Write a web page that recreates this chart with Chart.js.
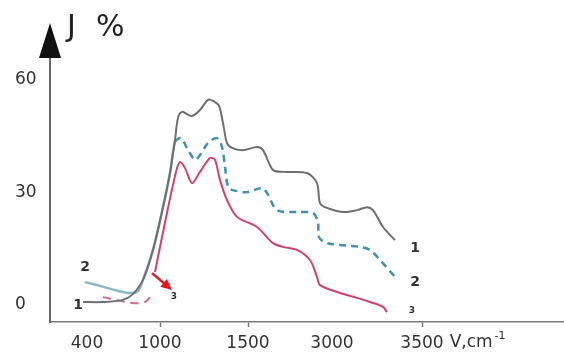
<!DOCTYPE html>
<html>
<head>
<meta charset="utf-8">
<script src="https://cdn.jsdelivr.net/npm/chart.js@4.4.1/dist/chart.umd.min.js"></script>
<style>
  html, body { margin: 0; padding: 0; background: #fff; }
  #wrap { width: 564px; height: 353px; }
</style>
</head>
<body>
<div id="wrap"><canvas id="spectrum" width="564" height="353"></canvas></div>
<script>
// Wavenumber axis is not linear, so points are placed in axis units
const tickPos = [37, 110, 198, 282, 372];
const tickLabels = ['400', '1000', '1500', '3000', '3500'];
const yTicks = [0, 30, 60];

// Curve 1 (grey)
const c1X = [33, 53, 72, 82, 93, 103, 113, 120, 125, 128, 132, 137, 142, 150, 158, 163, 169, 173, 177, 182, 193, 207, 213, 223, 233, 257, 267, 270, 277, 293, 307, 317, 323, 333, 345];
const c1Y = [0.8, 0.8, 1.3, 2.7, 6.7, 14.7, 26.1, 35.2, 44, 49.9, 51.5, 50.9, 50.4, 52, 54.7, 54.4, 53.1, 48.5, 43.2, 41.9, 41.3, 42.1, 41.3, 36, 35.5, 35.2, 32.5, 27.2, 25.9, 24.8, 25.3, 26.1, 25.3, 20.8, 17.3];

// Curve 2 (blue, dashed after the rise)
const c2X = [35, 50, 65, 80, 88, 93, 103, 113, 120, 125, 131, 137, 145, 150, 158, 167, 172, 175, 178, 182, 197, 212, 217, 227, 247, 263, 268, 269, 277, 310, 320, 330, 345];
const c2Y = [6.1, 5.1, 4, 3.2, 3.7, 6.7, 14.7, 26.1, 35.2, 43.5, 44.5, 41.9, 38.7, 40, 43.2, 44.5, 42.1, 36.8, 31.5, 30.7, 30.1, 31.2, 29.9, 25.3, 24.8, 24.5, 22.1, 18.1, 16.5, 15.5, 14.7, 12, 7.5];

// Curve 3 (crimson) and its dashed start near zero
const c3X = [105, 115, 126, 130, 135, 142, 150, 160, 165, 170, 177, 187, 207, 223, 233, 247, 260, 267, 270, 290, 307, 320, 333, 337];
const c3Y = [8.8, 22, 35.5, 38.1, 36.5, 32.5, 35.5, 39.2, 38.7, 33.3, 28, 23.5, 20.8, 16.5, 15.5, 14.7, 12, 7.5, 5.3, 3.2, 1.9, 0.8, -0.5, -1.9];
const c3dX = [53, 70, 85, 95, 100];
const c3dY = [2.1, 1.1, 0.5, 0.8, 2.1];

const pts = (xs, ys) => xs.map((x, i) => ({ x: x, y: ys[i] }));

// Axis arrow, titles, curve numbers and the red pointer
const decorations = {
    id: 'decorations',
    afterDraw(chart) {
        const { ctx, chartArea, scales: { x, y } } = chart;
        const ax = chartArea.left;
        ctx.save();

        // arrow on the J axis
        ctx.fillStyle = '#111';
        ctx.beginPath();
        ctx.moveTo(ax, 23);
        ctx.lineTo(ax - 11, chartArea.top + 1);
        ctx.lineTo(ax + 11, chartArea.top + 1);
        ctx.closePath();
        ctx.fill();

        ctx.fillStyle = '#222';
        ctx.font = '30px "DejaVu Sans"';
        ctx.textBaseline = 'alphabetic';
        ctx.fillText('J', 67, 36);
        ctx.fillText('%', 96, 36);

        // unit after the last tick label
        ctx.fillStyle = '#333';
        ctx.font = '17px "DejaVu Sans"';
        ctx.textBaseline = 'middle';
        const lastX = x.getPixelForValue(tickPos[tickPos.length - 1]);
        const half = ctx.measureText(tickLabels[tickLabels.length - 1]).width / 2;
        const vx = lastX + half + 6;
        ctx.fillText('V,cm', vx, 343);
        const vw = ctx.measureText('V,cm').width;
        ctx.font = '11px "DejaVu Sans"';
        ctx.fillText('-1', vx + vw + 2, 336);

        // curve numbers
        ctx.fillStyle = '#333';
        ctx.font = 'bold 14px "DejaVu Sans"';
        ctx.textAlign = 'center';
        const label = (t, vx, vy) => ctx.fillText(t, x.getPixelForValue(vx), y.getPixelForValue(vy));
        label('1', 365, 15.2);
        label('2', 365, 6.1);
        label('2', 35, 10.1);
        label('1', 28, 0);
        ctx.font = 'bold 9px "DejaVu Sans"';
        label('3', 362, -1.4);
        label('3', 124, 2.1);

        // red pointer towards curve 3
        const x0 = x.getPixelForValue(102), y0 = y.getPixelForValue(8.5);
        const x1 = x.getPixelForValue(122), y1 = y.getPixelForValue(4);
        const ang = Math.atan2(y1 - y0, x1 - x0);
        ctx.strokeStyle = '#e8141e';
        ctx.fillStyle = '#e8141e';
        ctx.lineWidth = 2.5;
        ctx.beginPath();
        ctx.moveTo(x0, y0);
        ctx.lineTo(x1 - 8 * Math.cos(ang), y1 - 8 * Math.sin(ang));
        ctx.stroke();
        ctx.beginPath();
        ctx.moveTo(x1, y1);
        ctx.lineTo(x1 - 11 * Math.cos(ang) + 5 * Math.sin(ang), y1 - 11 * Math.sin(ang) - 5 * Math.cos(ang));
        ctx.lineTo(x1 - 11 * Math.cos(ang) - 5 * Math.sin(ang), y1 - 11 * Math.sin(ang) + 5 * Math.cos(ang));
        ctx.closePath();
        ctx.fill();
        ctx.restore();
    }
};

new Chart(document.getElementById('spectrum'), {
    type: 'line',
    data: {
        datasets: [{
            label: '1',
            data: pts(c1X, c1Y),
            borderColor: '#6f6f6f',
            borderWidth: 2,
            tension: 0.3
        }, {
            label: '3',
            data: pts(c3X, c3Y),
            borderColor: '#cf4170',
            borderWidth: 2,
            tension: 0.3
        }, {
            label: '3',
            data: pts(c3dX, c3dY),
            borderColor: '#d9668c',
            borderWidth: 2,
            borderDash: [8, 6],
            tension: 0.4
        }, {
            label: '2',
            data: pts(c2X, c2Y),
            borderColor: '#3f92b2',
            borderWidth: 2.5,
            tension: 0.3,
            segment: {
                borderDash: c => c.p0.parsed.x >= 125 ? [7, 5] : undefined,
                borderColor: c => c.p0.parsed.x >= 125 ? '#3f92b2' : '#8db9c7'
            }
        }]
    },
    options: {
        responsive: false,
        animation: false,
        events: [],
        layout: { padding: { left: 15, top: 57, right: 0, bottom: 0 } },
        elements: { point: { radius: 0 } },
        plugins: { legend: { display: false }, tooltip: { enabled: false } },
        scales: {
            x: {
                type: 'linear',
                min: 0,
                max: 514,
                afterBuildTicks: s => { s.ticks = tickPos.map(v => ({ value: v })); },
                afterFit: s => { s.height = 31; },
                border: { display: true, color: '#7a7a7a', width: 1.5 },
                grid: {
                    display: true,
                    drawOnChartArea: false,
                    tickLength: 5,
                    tickWidth: 1.5,
                    color: c => [1, 2, 4].includes(c.index) ? '#777' : 'rgba(0,0,0,0)'
                },
                ticks: {
                    padding: 6,
                    maxRotation: 0,
                    autoSkip: false,
                    color: '#333',
                    font: { family: 'DejaVu Sans', size: 17 },
                    callback: (v, i) => tickLabels[i]
                }
            },
            y: {
                type: 'linear',
                min: -4.53,
                max: 66.13,
                afterBuildTicks: s => { s.ticks = yTicks.map(v => ({ value: v })); },
                afterFit: s => { s.width = 35; },
                border: { display: true, color: '#666', width: 2 },
                grid: { display: false },
                ticks: {
                    crossAlign: 'far',
                    color: '#333',
                    font: { family: 'DejaVu Sans', size: 17 },
                    callback: v => String(v)
                }
            }
        }
    },
    plugins: [decorations]
});
</script>
</body>
</html>
